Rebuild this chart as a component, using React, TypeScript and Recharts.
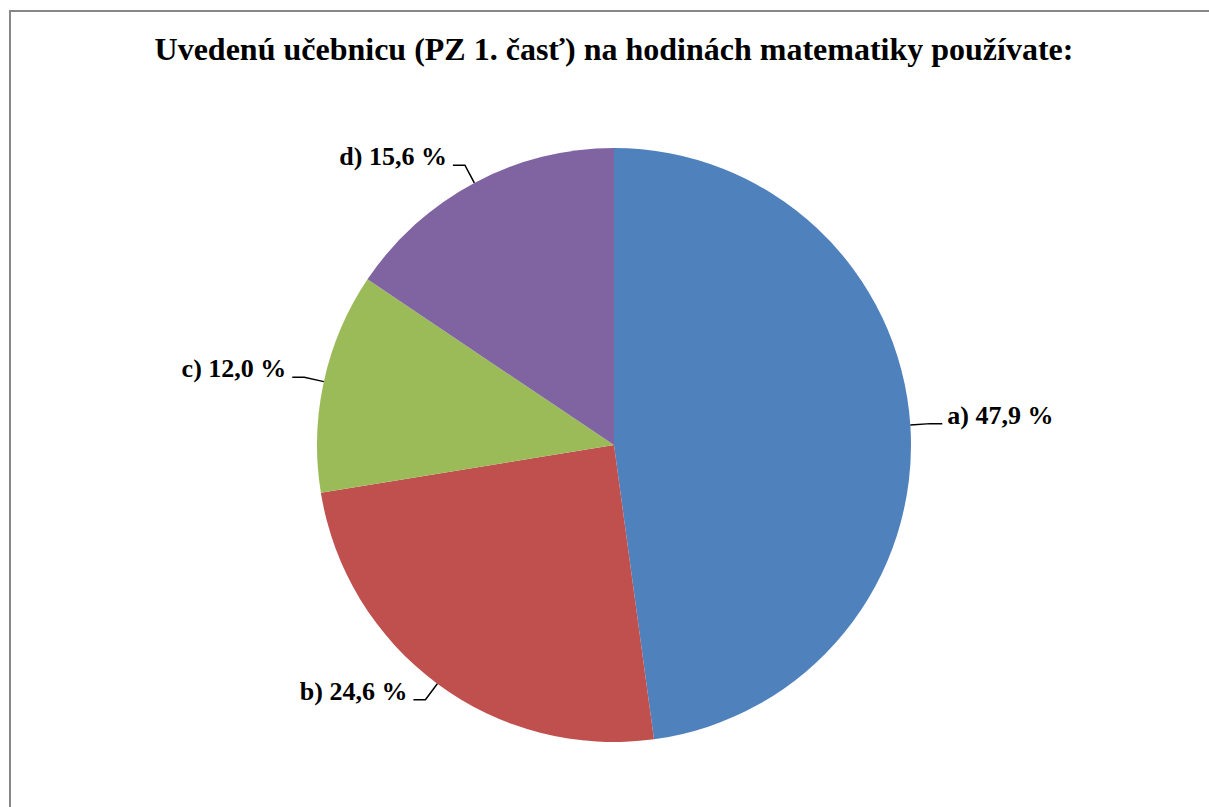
import React from "react";
import { PieChart, Pie, Cell } from "recharts";

// odpovede a ich podiel v %
const categories = ["a", "b", "c", "d"];
const shares = [47.9, 24.6, 12.0, 15.6];
const colors = ["#4F81BD", "#C0504D", "#9BBB59", "#8064A2"];
const title = "Uvedenú učebnicu (PZ 1. časť) na hodinách matematiky používate:";

const data = categories.map((c, i) => ({ name: c, value: shares[i] }));

const RADIAN = Math.PI / 180;
const FONT = '"Liberation Serif", "Times New Roman", serif';

// popis s lomenou vodiacou čiarou (ako v Exceli)
const renderLabel = (props: any) => {
  const { cx, cy, midAngle, outerRadius, name, value } = props;
  const cos = Math.cos(-midAngle * RADIAN);
  const sin = Math.sin(-midAngle * RADIAN);
  const sx = cx + outerRadius * cos;
  const sy = cy + outerRadius * sin;
  const mx = cx + (outerRadius + 20) * cos;
  const my = cy + (outerRadius + 20) * sin;
  const right = cos >= 0;
  const ex = mx + (right ? 12 : -12);
  const text = `${name}) ${Number(value).toFixed(1).replace(".", ",")} %`;
  return (
    <g>
      <path
        d={`M${sx},${sy}L${mx},${my}L${ex},${my}`}
        stroke="#000"
        strokeWidth={1.5}
        fill="none"
      />
      <text
        x={ex + (right ? 5 : -6)}
        y={my}
        textAnchor={right ? "start" : "end"}
        fill="#000"
        style={{ fontFamily: FONT, fontWeight: "bold", fontSize: 26 }}
      >
        {text}
      </text>
    </g>
  );
};

export default function App() {
  return (
    <div
      style={{
        position: "absolute",
        left: 0,
        top: 0,
        width: 1209,
        height: 807,
        overflow: "hidden",
        background: "#fff",
      }}
    >
      <div
        style={{
          position: "absolute",
          left: 9,
          top: 10,
          width: 1400,
          height: 1000,
          border: "2px solid #878787",
        }}
      />
      <div
        style={{
          position: "absolute",
          left: 0,
          top: 31,
          width: 1228,
          textAlign: "center",
          fontFamily: FONT,
          fontWeight: "bold",
          fontSize: 32,
          color: "#000",
          whiteSpace: "nowrap",
        }}
      >
        {title}
      </div>
      <div style={{ position: "absolute", left: 0, top: 0 }}>
        <PieChart
          width={1209}
          height={807}
          margin={{ top: 0, right: 0, bottom: 0, left: 0 }}
        >
          <Pie
            data={data}
            dataKey="value"
            nameKey="name"
            cx={614}
            cy={445}
            outerRadius={297}
            startAngle={90}
            endAngle={-270}
            stroke="none"
            label={renderLabel}
            labelLine={false}
            isAnimationActive={false}
          >
            {data.map((d, i) => (
              <Cell key={d.name} fill={colors[i]} />
            ))}
          </Pie>
        </PieChart>
      </div>
    </div>
  );
}
